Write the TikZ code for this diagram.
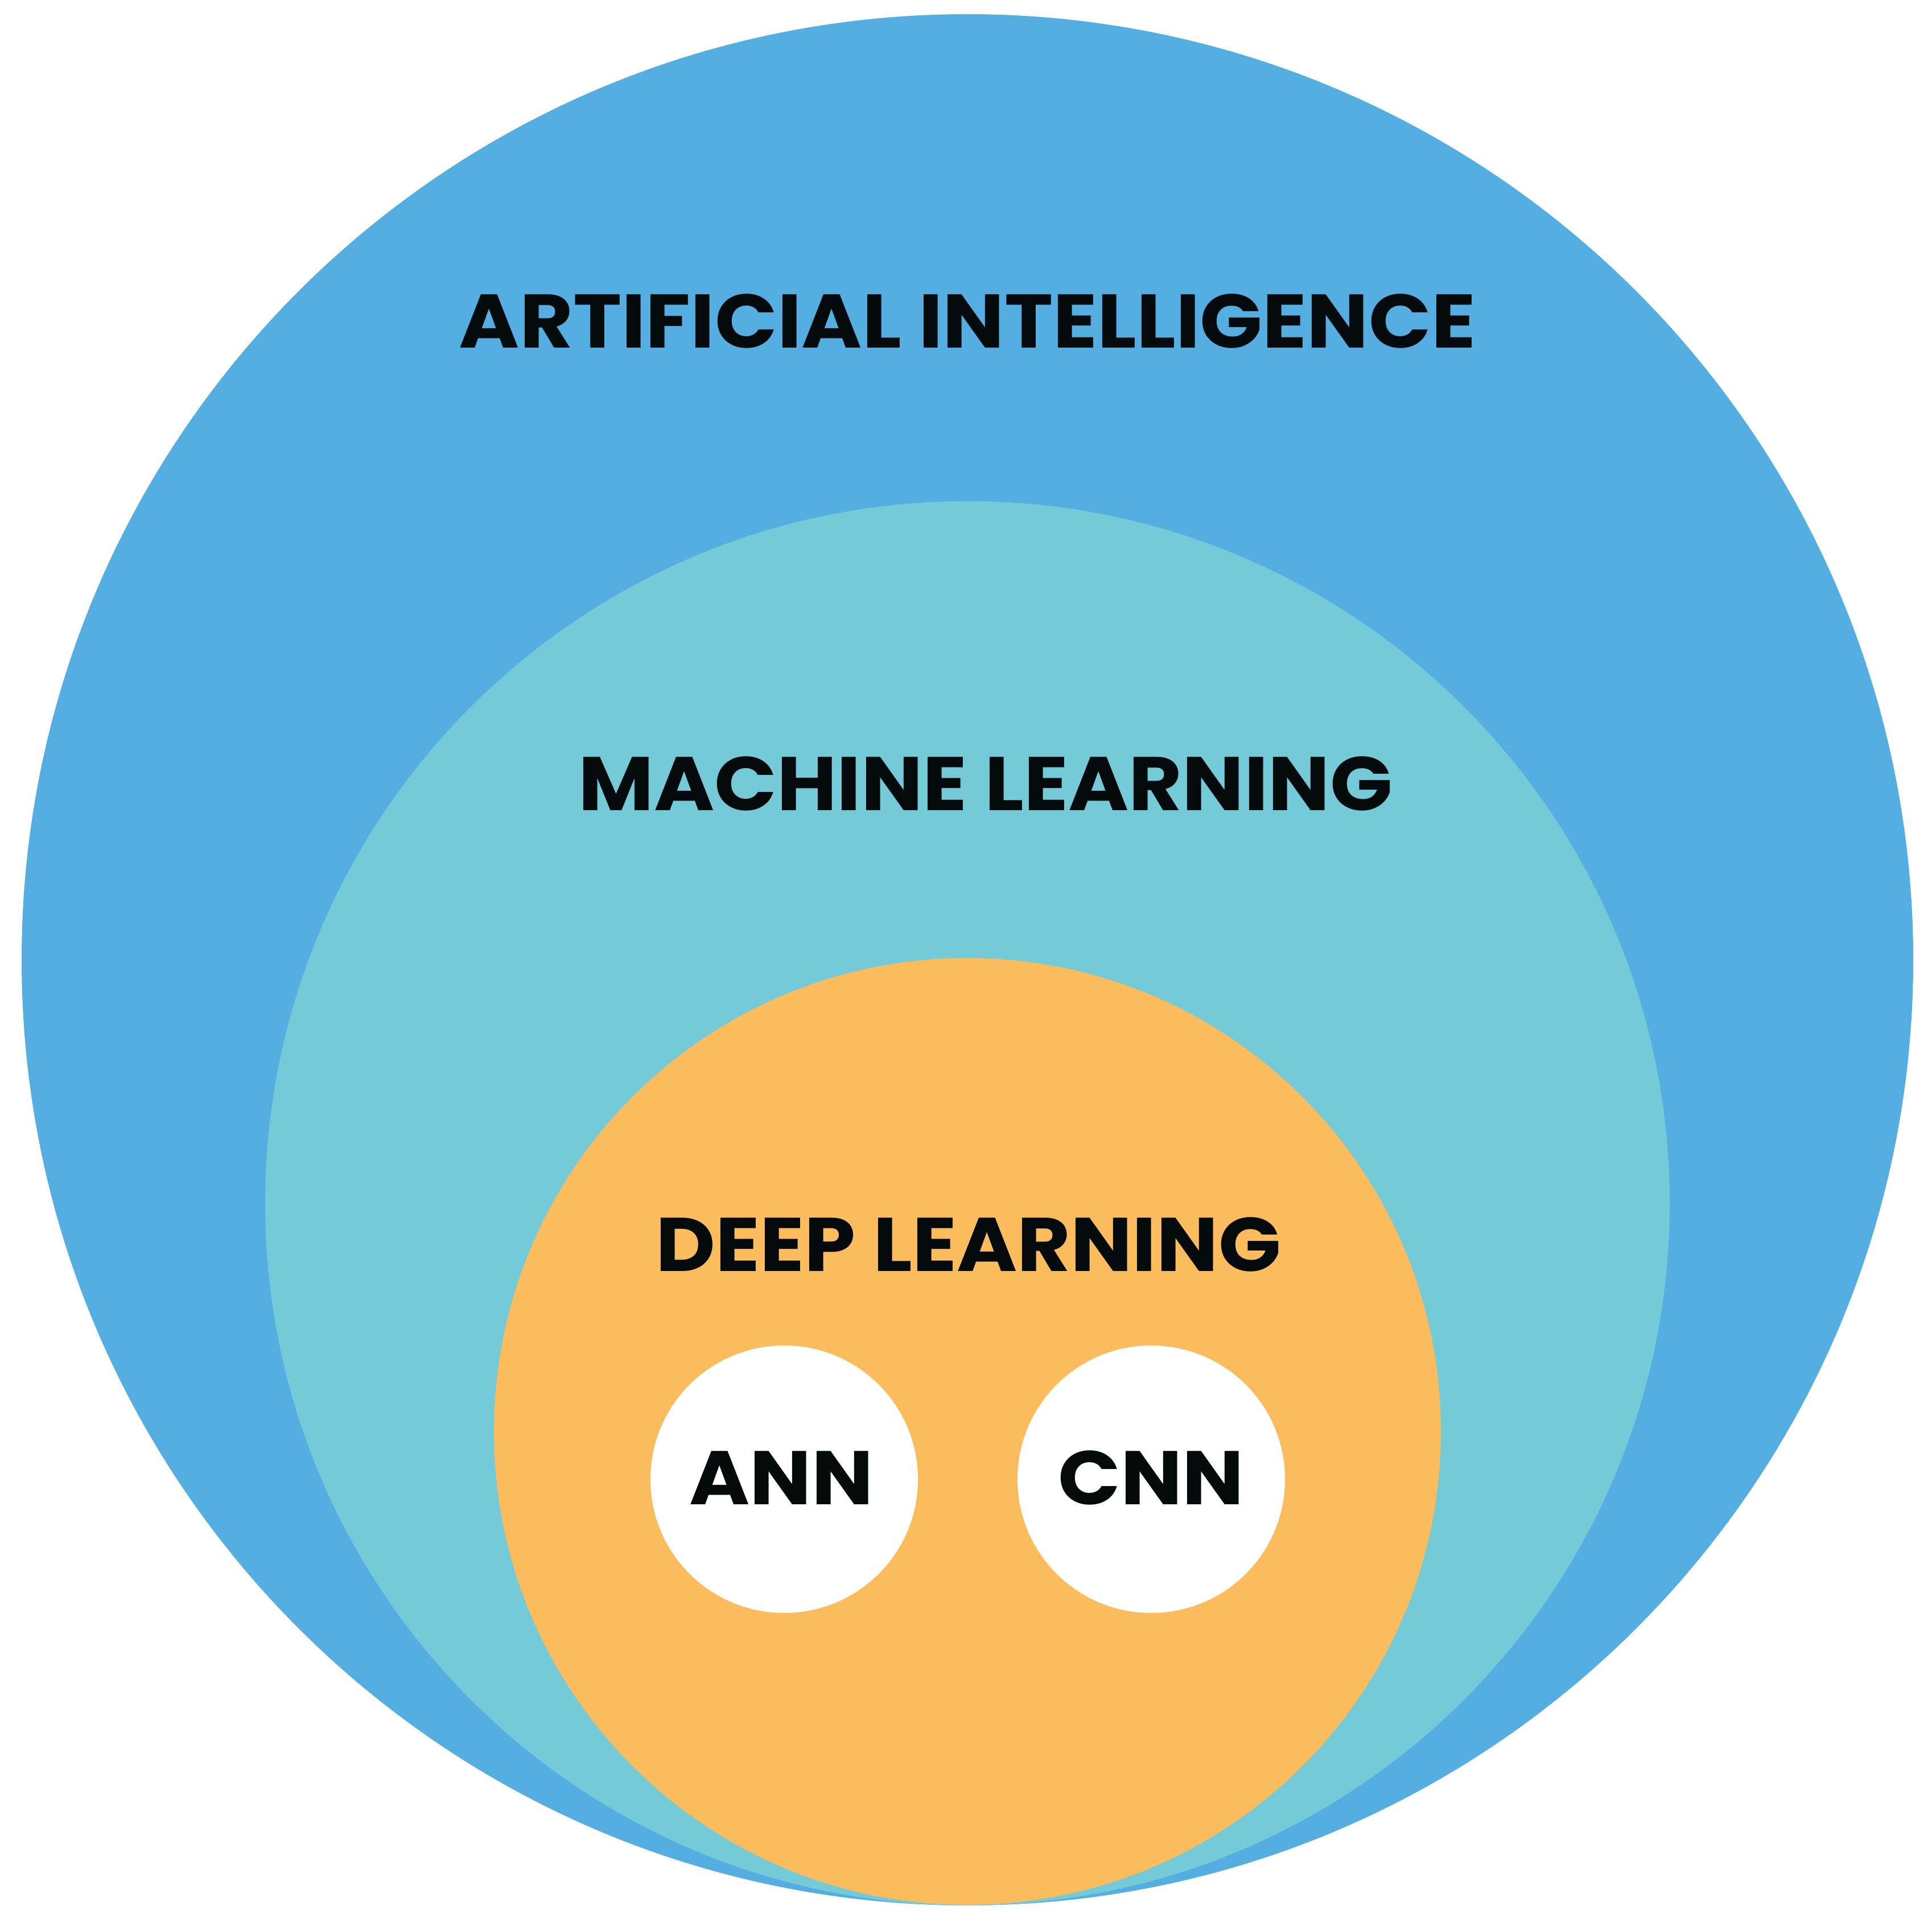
\documentclass[tikz,border=0pt]{standalone}
\usepackage{fontspec}
\setmainfont{Poppins}[BoldFont={* Bold}, FakeStretch=1.08]
\definecolor{azulia}{HTML}{55AEE1}
\definecolor{turquesaml}{HTML}{74CBD7}
\definecolor{naranjadl}{HTML}{FBBC5D}
\definecolor{textoneg}{HTML}{050A0C}
\tikzset{
  rotulo/.style={anchor=base, inner sep=0pt, text=textoneg, font=\fontsize{38}{40}\selectfont\bfseries},
  redneu/.style={circle, fill=white, minimum size=4.70cm, inner sep=0pt}
}

\begin{document}
\begin{tikzpicture}
  \useasboundingbox (0,0) rectangle (33.95,33.86);
  % conjuntos anidados
  \fill[azulia] (17.00,16.99) circle (16.62);
  \fill[turquesaml] (17.00,12.71) circle (12.34);
  \fill[naranjadl] (17.00,8.70) circle (8.32);
  % rotulos
  \node[rotulo] (ai) at (17.00,27.74) {ARTIFICIAL INTELLIGENCE};
  \node[rotulo] (ml) at (17.32,19.61) {MACHINE LEARNING};
  \node[rotulo] (dl) at (17.02,11.51) {DEEP LEARNING};
  % redes
  \node[redneu] (ann) at (13.78,7.86) {};
  \node[redneu] (cnn) at (20.23,7.86) {};
  \node[rotulo] (annt) at (13.73,7.41) {ANN};
  \node[rotulo] (cnnt) at (20.23,7.41) {CNN};
\end{tikzpicture}
\end{document}
